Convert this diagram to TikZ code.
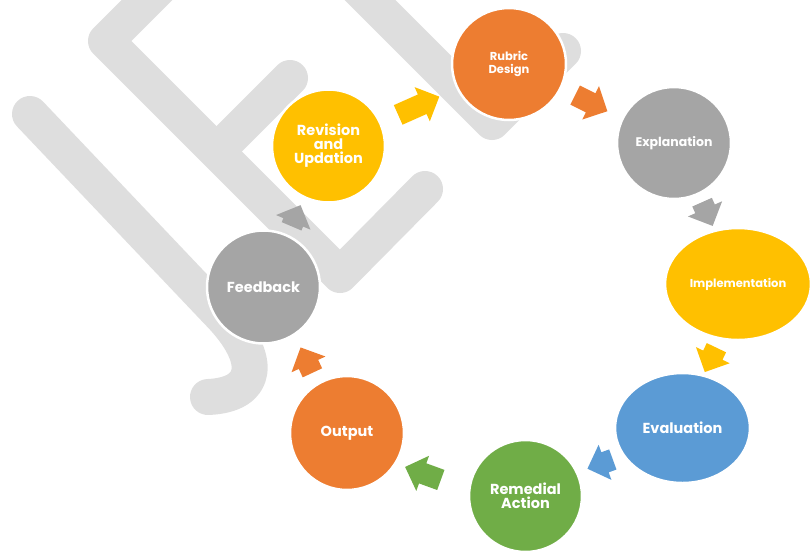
\documentclass[tikz,border=0pt]{standalone}
\usepackage{fontspec}
\setmainfont{Poppins}
\usetikzlibrary{shapes.geometric,shapes.arrows}
\definecolor{stageorange}{HTML}{ED7D31}
\definecolor{stagegrey}{HTML}{A5A5A5}
\definecolor{stageyellow}{HTML}{FFC000}
\definecolor{stageblue}{HTML}{5B9BD5}
\definecolor{stagegreen}{HTML}{70AD47}
\definecolor{wmgrey}{HTML}{DEDEDE}

\begin{document}
\begin{tikzpicture}
   [x=1pt, y=-1pt,
    stage/.style={ellipse, draw=white, line width=2.5pt, inner sep=0pt, align=center,
                  text=white, font=\bfseries\fontsize{14.5}{14}\selectfont},
    flow/.style={single arrow, single arrow head extend=8pt, inner xsep=0pt,
                 inner ysep=10.5pt, anchor=tail},
    backletter/.style={draw=wmgrey, line width=36pt, line cap=round, line join=round}]
     \useasboundingbox (0,0) rectangle (810,552);
     % draw watermark letters
     \begin{scope}
       \clip (0,0) rectangle (810,552);
       \draw [backletter] (30,114) -- (218,312) .. controls (265,360) and (258,395) .. (208,397);
       \draw [backletter] (185,-38) -- (106,41) -- (340,275) -- (425,189);
       \draw [backletter] (219,149) -- (290,78);
       \draw [backletter] (340,-30) -- (492,122) -- (563,51);
     \end{scope}
     % draw arrows
     \foreach \n/\c/\x/\y/\a/\l in {a1/stageyellow/398/115/24/45, a2/stageorange/575/95/-26.6/36,
         a3/stagegrey/702/202/-66/26, a4/stageyellow/716.5/347.5/-115.5/27,
         a5/stageblue/613/459.4/-160/27, a6/stagegreen/441/480/160/38,
         a7/stageorange/312.5/373/115/28, a8/stagegrey/291.5/226.5/67/23} {
       \node (\n) [flow, fill=\c, rotate=\a, minimum height=\l] at (\x,\y) {};
     };
     % draw stages
     \node (rub) [stage, fill=stageorange, minimum width=114pt, minimum height=112pt,
                  font=\bfseries\fontsize{11.5}{13}\selectfont] at (509,64) {Rubric\\Design};
     \node (expl) [stage, fill=stagegrey, minimum width=114pt, minimum height=112pt,
                   font=\bfseries\fontsize{12.5}{13}\selectfont] at (674,143) {Explanation};
     \node (impl) [stage, fill=stageyellow, minimum width=146pt, minimum height=112pt,
                   font=\bfseries\fontsize{11.5}{13}\selectfont] at (738,284) {Implementation};
     \node (eval) [stage, fill=stageblue, minimum width=135pt, minimum height=110pt] at (682.5,428) {Evaluation};
     \node (rem) [stage, fill=stagegreen, minimum width=113pt, minimum height=112pt] at (525.5,496) {Remedial\\Action};
     \node (outp) [stage, fill=stageorange, minimum width=114pt, minimum height=114pt] at (347,433) {Output};
     \node (feed) [stage, fill=stagegrey, minimum width=113pt, minimum height=113pt] at (263.5,287) {Feedback};
     \node (rev) [stage, fill=stageyellow, minimum width=113pt, minimum height=113pt] at (328.5,146) {Revision\\and\\Updation};
\end{tikzpicture}
\end{document}
